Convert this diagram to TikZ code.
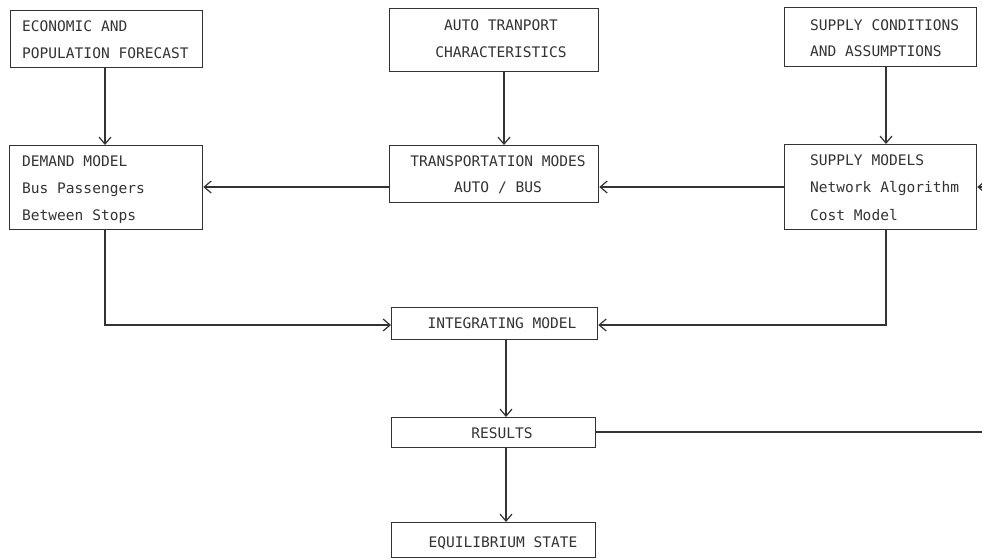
\documentclass[tikz,border=0pt]{standalone}
\usepackage{fontspec}
\setmonofont{DejaVu Sans Mono}
\usetikzlibrary{arrows.meta}
\definecolor{ink}{HTML}{333333}
\tikzset{
  boxnode/.style={draw=ink, line width=1.3bp, inner sep=0pt, anchor=north west},
  txt/.style={inner sep=0pt, text=ink, font=\ttfamily\fontsize{14.6}{27}\selectfont},
  arr/.style={draw=ink, line width=1.3bp, -{Straight Barb[length=7bp,width=12bp,line width=1.2bp]}},
  ln/.style={draw=ink, line width=1.3bp}
}
\begin{document}
\begin{tikzpicture}[x=1bp,y=-1bp]
\useasboundingbox (0,0) rectangle (982,559);
% boxes
\node[boxnode, minimum width=192bp, minimum height=57bp] (econ) at (10,10) {};
\node[boxnode, minimum width=193bp, minimum height=84bp] (demand) at (9,145) {};
\node[boxnode, minimum width=209bp, minimum height=63bp] (auto) at (389,8) {};
\node[boxnode, minimum width=209bp, minimum height=57bp] (modes) at (389,145) {};
\node[boxnode, minimum width=192bp, minimum height=59bp] (supc) at (784,7) {};
\node[boxnode, minimum width=192bp, minimum height=85bp] (supm) at (784,144) {};
\node[boxnode, minimum width=206bp, minimum height=32bp] (integ) at (391,307) {};
\node[boxnode, minimum width=204bp, minimum height=30bp] (res) at (391,417) {};
\node[boxnode, minimum width=204bp, minimum height=35bp] (equil) at (391,522) {};
% texts
\node[txt, anchor=base west] (t1a) at (22,32) {ECONOMIC AND};
\node[txt, anchor=base west] (t1b) at (22,59) {POPULATION FORECAST};
\node[txt, anchor=base west] (t2a) at (22,167) {DEMAND MODEL};
\node[txt, anchor=base west] (t2b) at (22,194) {Bus Passengers};
\node[txt, anchor=base west] (t2c) at (22,221) {Between Stops};
\node[txt, anchor=base] (t3a) at (501,31) {AUTO TRANPORT};
\node[txt, anchor=base] (t3b) at (501,58) {CHARACTERISTICS};
\node[txt, anchor=base] (t4a) at (498,167) {TRANSPORTATION MODES};
\node[txt, anchor=base] (t4b) at (498,193) {AUTO / BUS};
\node[txt, anchor=base west] (t5a) at (810,31) {SUPPLY CONDITIONS};
\node[txt, anchor=base west] (t5b) at (810,57) {AND ASSUMPTIONS};
\node[txt, anchor=base west] (t6a) at (810,166) {SUPPLY MODELS};
\node[txt, anchor=base west] (t6b) at (810,193) {Network Algorithm};
\node[txt, anchor=base west] (t6c) at (810,221) {Cost Model};
\node[txt, anchor=base] (t7) at (502,329) {INTEGRATING MODEL};
\node[txt, anchor=base] (t8) at (502,438) {RESULTS};
\node[txt, anchor=base] (t9) at (503,547) {EQUILIBRIUM STATE};
% edge coordinates
\coordinate (edgeA) at (982,187);
\coordinate (edgeB) at (982,432);
% connectors
\draw[arr] (econ.south -| 105,0) -- (demand.north -| 105,0);
\draw[arr] (auto.south -| 504,0) -- (modes.north -| 504,0);
\draw[arr] (supc.south -| 886,0) -- (supm.north -| 886,0);
\draw[arr] (modes.west |- 0,187) -- (demand.east |- 0,187);
\draw[arr] (supm.west |- 0,187) -- (modes.east |- 0,187);
\draw[arr] (edgeA) -- (supm.east |- edgeA);
\draw[arr] (demand.south -| 105,0) -- (105,325) -- (integ.west |- 0,325);
\draw[arr] (supm.south -| 886,0) -- (886,325) -- (integ.east |- 0,325);
\draw[arr] (integ.south -| 506,0) -- (res.north -| 506,0);
\draw[arr] (res.south -| 506,0) -- (equil.north -| 506,0);
\draw[ln] (res.east |- edgeB) -- (edgeB);
\end{tikzpicture}
\end{document}
